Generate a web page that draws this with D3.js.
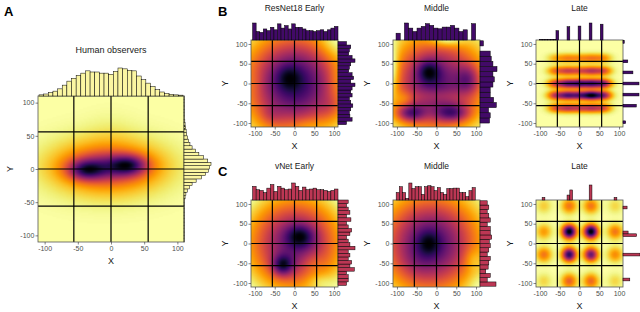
<!DOCTYPE html>
<html>
<head>
<meta charset="utf-8">
<script src="https://cdn.jsdelivr.net/npm/d3@7"></script>
<style>
  body { margin: 0; background: #fff; }
  text { font-family: Arial, "Liberation Sans", sans-serif; }
</style>
</head>
<body>
<svg id="fig" width="640" height="312"></svg>
<script>
// ---- data ----
const axisRange = [-110, 110];
const cutLines = [-56, 0, 56];
const tickValues = [-100, -50, 0, 50, 100];

// density peaks: [x, y, sdX, sdY, weight]
const humanPeaks = [
  [-38, -2, 18, 10, 0.8],
  [27, 6, 18, 10, 0.8],
  [-5, 3, 40, 14, 0.6],
  [-5, 3, 55, 28, 0.8],
  [0, 60, 25, 20, 0.04]
];
const humanTopBins = [-108.5, 7];
const humanTopCounts = [0.04, 0.07, 0.12, 0.17, 0.25, 0.38, 0.52, 0.62, 0.72, 0.8, 0.88, 0.84, 0.84, 0.8, 0.8, 0.76,
  0.86, 0.98, 0.95, 0.9, 0.88, 0.7, 0.57, 0.45, 0.33, 0.22, 0.14, 0.09, 0.06, 0.04, 0.03];
const humanRightBins = [-110, 5];
const humanRightCounts = [0.01, 0.01, 0.01, 0.01, 0.01, 0.01, 0.01, 0.01, 0.01, 0.01, 0.01, 0.01,
  0.02, 0.04, 0.07, 0.12, 0.2, 0.3, 0.45, 0.65, 0.8, 0.9, 0.95, 1.0, 0.88, 0.72, 0.55, 0.42, 0.3, 0.22,
  0.17, 0.13, 0.1, 0.08, 0.06, 0.04, 0.03, 0.02, 0.01, 0.01, 0.01, 0.01, 0.01, 0.01];

const resEarlyPeaks = [
  [0, 0, 90, 90, 1.0],
  [-15, 15, 22, 22, 0.18],
  [100, 100, 30, 30, -0.12],
  [30, -105, 30, 15, -0.1],
  [105, 10, 15, 30, -0.08],
  [-100, 0, 15, 25, -0.05],
  [-60, -80, 20, 18, 0.1],
  [90, -60, 20, 20, 0.1]
];
const resEarlyTopBins = [-106, 9];
const resEarlyTopCounts = [1.0, 0.5, 0.45, 0.65, 0.55, 0.75, 0.6, 0.95, 0.7, 0.85, 0.65, 0.95, 0.75, 0.75, 0.65, 0.55,
  0.55, 0.5, 0.55, 0.6, 0.5, 0.6, 0.7, 0.8];
const resEarlyRightBins = [-104, 8.75];
const resEarlyRightCounts = [0.5, 0.83, 0.7, 0.67, 0.75, 0.87, 0.75, 0.67, 0.83, 0.75, 0.83, 1.0, 0.75, 0.92, 0.83, 0.63,
  0.67, 0.75, 1.0, 0.83, 0.63, 0.67, 0.75, 0.5];

const resMiddlePeaks = [
  [0, 0, 90, 90, 0.8],
  [-20, 30, 20, 20, 0.3],
  [80, 10, 20, 25, 0.25],
  [-65, -75, 25, 15, 0.4],
  [40, -75, 30, 15, 0.35],
  [0, -30, 50, 12, -0.1],
  [25, 115, 30, 15, -0.25],
  [-115, 30, 14, 45, -0.25],
  [-80, -40, 15, 15, -0.1]
];
const resMiddleTopBins = [-102.3, 10.6];
const resMiddleTopCounts = [0.4, 0, 1.0, 0.7, 0.5, 0.7, 0.8, 0.96, 0.86, 0.7, 0.66, 0.76, 0.76, 0.86, 0.7, 0.5, 0.6, 0, 0.96];
const resMiddleRightBins = [-100, 13];
const resMiddleRightCounts = [0.56, 0.6, 0.5, 0.96, 0.8, 0.6, 0.6, 0.76, 0.84, 0.76, 1.0, 0.76, 0.66, 0.6, 0, 0.2];

const resLatePeaks = [
  [-60, 64, 15, 8, 0.2], [-30, 64, 15, 8, 0.28], [0, 64, 15, 8, 0.25], [30, 64, 15, 8, 0.3], [60, 64, 15, 8, 0.28],
  [-60, 32, 15, 8, 0.35], [-30, 32, 15, 8, 0.45], [0, 32, 15, 8, 0.4], [30, 32, 15, 8, 0.5], [60, 32, 15, 8, 0.45],
  [-60, 0, 15, 8, 0.5], [-30, 0, 15, 8, 0.75], [0, 0, 15, 8, 0.8], [30, 0, 15, 8, 0.8], [60, 0, 15, 8, 0.75],
  [-60, -30, 15, 8, 0.55], [-30, -30, 15, 8, 0.75], [0, -30, 15, 8, 0.7], [30, -30, 15, 8, 1.0], [60, -30, 15, 8, 0.7],
  [-60, -62, 15, 8, 0.4], [-30, -62, 15, 8, 0.5], [0, -62, 15, 8, 0.45], [30, -62, 15, 8, 0.5], [60, -62, 15, 8, 0.45]
];
const resLateTopBins = [-108.5, 7];
const resLateTopCounts = [0, 0.03, 0.03, 0.03, 0.03, 0.03, 0.03, 0.55, 0, 0, 0, 0.78, 0, 0, 0, 0.82,
  0, 0, 0, 1.0, 0, 0, 0, 0.93, 0, 0, 0, 0, 0, 0, 0];
const resLateRightBins = [-108.5, 7];
const resLateRightCounts = [0, 0.17, 0, 0, 0, 0, 0, 0.83, 0, 0, 0, 1.0, 0, 0, 0, 1.0,
  0, 0, 0, 0.62, 0, 0, 0, 0.3, 0, 0, 0, 0, 0, 0, 0.08];

const vnetEarlyPeaks = [
  [0, 0, 90, 90, 0.8],
  [15, 18, 25, 20, 0.3],
  [-30, -55, 18, 18, 0.4],
  [45, -50, 20, 20, -0.1],
  [60, -95, 25, 15, -0.1]
];
const vnetEarlyTopBins = [-106, 9];
const vnetEarlyTopCounts = [0.77, 0.58, 0.54, 0.42, 0.67, 0.87, 0.48, 0.77, 0.67, 0.58, 0.62, 0.96, 0.77, 0.54, 0.73, 0.58,
  0.62, 0.67, 0.58, 0.58, 0.54, 0.48, 0.54, 0.62];
const vnetEarlyRightBins = [-106, 9];
const vnetEarlyRightCounts = [0.5, 0.6, 0.6, 0.5, 0.96, 0.7, 0.8, 0.6, 0.7, 0.6, 1.0, 0.7, 0.6, 0.5, 0.7, 0.8,
  0.6, 0.5, 0.76, 0.5, 0.7, 0.6, 0.5, 0.6];

const vnetMiddlePeaks = [
  [-15, 0, 90, 90, 0.85],
  [-20, 0, 20, 22, 0.2],
  [-50, -50, 30, 30, 0.05],
  [90, -40, 15, 20, -0.1],
  [100, -100, 20, 20, -0.05]
];
const vnetMiddleTopBins = [-102, 8];
const vnetMiddleTopCounts = [0.44, 0.78, 0.44, 0.1, 1.0, 0.67, 0.78, 0.78, 0.33, 0.78, 0.84, 0.78, 0.55, 0.73, 0.44, 0.33,
  0.67, 0.67, 0.7, 0.7, 0.44, 0.44, 0.2, 0.55, 0.73, 0];
const vnetMiddleRightBins = [-108, 10.8];
const vnetMiddleRightCounts = [1.0, 0.45, 0.64, 0.36, 0.51, 0.55, 0.64, 0.45, 0.55, 0.64, 0.58, 0.73, 0.64, 0.64, 0.45, 0.64,
  0.55, 0.45, 0.55, 0.45];

const vnetLatePeaks = [
  [-26, 30, 12, 12, 1.0], [29, 30, 12, 12, 1.0], [-26, -28, 12, 12, 0.85], [29, -28, 12, 12, 0.7],
  [-26, 95, 13, 13, 0.3], [29, 95, 13, 13, 0.3], [-26, -95, 13, 13, 0.35], [29, -95, 13, 13, 0.33],
  [-90, 30, 13, 13, 0.22], [-90, -28, 13, 13, 0.3], [90, 30, 13, 13, 0.3], [90, -28, 13, 13, 0.25],
  [-90, 95, 13, 13, 0.12], [90, 95, 13, 13, 0.1], [-90, -95, 13, 13, 0.1], [90, -95, 13, 13, 0.1]
];
const vnetLateTopBins = [-108.5, 7];
const vnetLateTopCounts = [0, 0, 0.17, 0, 0, 0, 0, 0, 0, 0, 0, 0.33, 0.67, 0, 0, 0,
  0, 0, 0, 1.0, 0, 0, 0, 0, 0, 0, 0, 0, 0.17, 0, 0];
const vnetLateRightBins = [-108.5, 7];
const vnetLateRightCounts = [0, 0, 0.4, 0, 0, 0, 0, 0, 0, 0, 0, 1.0, 0, 0, 0, 0,
  0, 0, 0.8, 0.3, 0, 0, 0, 0, 0, 0, 0, 0, 0.24, 0, 0];

const humanFill = "#fbf6a2";
const resFill = "#420a68";
const vnetFill = "#bc3754";

// ---- layout ----
const panels = [
  { title: "Human observers", left: 38, top: 96, size: 146, titleY: 53, topMax: 28, rightMax: 27, fill: humanFill,
    peaks: humanPeaks, topBins: humanTopBins, topCounts: humanTopCounts, rightBins: humanRightBins, rightCounts: humanRightCounts },
  { title: "ResNet18 Early", left: 251, top: 40, size: 87, titleY: 11, topMax: 17, rightMax: 17, fill: resFill,
    peaks: resEarlyPeaks, topBins: resEarlyTopBins, topCounts: resEarlyTopCounts, rightBins: resEarlyRightBins, rightCounts: resEarlyRightCounts },
  { title: "Middle", left: 393, top: 40, size: 87, titleY: 11, topMax: 17, rightMax: 17, fill: resFill,
    peaks: resMiddlePeaks, topBins: resMiddleTopBins, topCounts: resMiddleTopCounts, rightBins: resMiddleRightBins, rightCounts: resMiddleRightCounts },
  { title: "Late", left: 536, top: 40, size: 87, titleY: 11, topMax: 17, rightMax: 16, fill: resFill,
    peaks: resLatePeaks, topBins: resLateTopBins, topCounts: resLateTopCounts, rightBins: resLateRightBins, rightCounts: resLateRightCounts },
  { title: "vNet Early", left: 251, top: 200, size: 87, titleY: 169, topMax: 17, rightMax: 17, fill: vnetFill,
    peaks: vnetEarlyPeaks, topBins: vnetEarlyTopBins, topCounts: vnetEarlyTopCounts, rightBins: vnetEarlyRightBins, rightCounts: vnetEarlyRightCounts },
  { title: "Middle", left: 393, top: 200, size: 87, titleY: 169, topMax: 17, rightMax: 16, fill: vnetFill,
    peaks: vnetMiddlePeaks, topBins: vnetMiddleTopBins, topCounts: vnetMiddleTopCounts, rightBins: vnetMiddleRightBins, rightCounts: vnetMiddleRightCounts },
  { title: "Late", left: 536, top: 200, size: 87, titleY: 169, topMax: 15, rightMax: 17, fill: vnetFill,
    peaks: vnetLatePeaks, topBins: vnetLateTopBins, topCounts: vnetLateTopCounts, rightBins: vnetLateRightBins, rightCounts: vnetLateRightCounts }
];

const svg = d3.select("#fig");
const gridN = 110;

function densityGrid(peaks) {
  const step = (axisRange[1] - axisRange[0]) / gridN;
  const vals = [];
  for (let r = 0; r < gridN; r++) {
    const y = axisRange[1] - (r + 0.5) * step;
    for (let c = 0; c < gridN; c++) {
      const x = axisRange[0] + (c + 0.5) * step;
      let v = 0;
      for (const [px, py, sx, sy, w] of peaks) {
        v += w * Math.exp(-((x - px) ** 2 / (2 * sx * sx) + (y - py) ** 2 / (2 * sy * sy)));
      }
      vals.push(v);
    }
  }
  return vals;
}

function drawPanel(p) {
  const g = svg.append("g");
  const x = d3.scaleLinear().domain(axisRange).range([p.left, p.left + p.size]);
  const y = d3.scaleLinear().domain(axisRange).range([p.top + p.size, p.top]);

  // heat map
  const vals = densityGrid(p.peaks);
  const color = d3.scaleSequential(d3.interpolateInferno).domain([d3.max(vals), d3.min(vals)]);
  const canvas = document.createElement("canvas");
  canvas.width = gridN; canvas.height = gridN;
  const ctx = canvas.getContext("2d");
  const img = ctx.createImageData(gridN, gridN);
  vals.forEach((v, i) => {
    const c = d3.rgb(color(v));
    img.data[4 * i] = c.r; img.data[4 * i + 1] = c.g; img.data[4 * i + 2] = c.b; img.data[4 * i + 3] = 255;
  });
  ctx.putImageData(img, 0, 0);
  g.append("image")
    .attr("href", canvas.toDataURL())
    .attr("x", p.left).attr("y", p.top)
    .attr("width", p.size).attr("height", p.size)
    .attr("preserveAspectRatio", "none");

  // cut lines
  g.selectAll(".vcut").data(cutLines).enter().append("line")
    .attr("x1", d => x(d)).attr("x2", d => x(d))
    .attr("y1", p.top).attr("y2", p.top + p.size)
    .attr("stroke", "#000").attr("stroke-width", 1.2);
  g.selectAll(".hcut").data(cutLines).enter().append("line")
    .attr("y1", d => y(d)).attr("y2", d => y(d))
    .attr("x1", p.left).attr("x2", p.left + p.size)
    .attr("stroke", "#000").attr("stroke-width", 1.2);

  g.append("rect")
    .attr("x", p.left).attr("y", p.top).attr("width", p.size).attr("height", p.size)
    .attr("fill", "none").attr("stroke", "#555").attr("stroke-width", 0.8);

  // axes
  const ax = g.append("g").attr("transform", `translate(0,${p.top + p.size})`)
    .call(d3.axisBottom(x).tickValues(tickValues).tickFormat(d => String(d)).tickSize(2.5).tickPadding(1.5));
  const ay = g.append("g").attr("transform", `translate(${p.left},0)`)
    .call(d3.axisLeft(y).tickValues(tickValues).tickFormat(d => String(d)).tickSize(2.5).tickPadding(1.2));
  [ax, ay].forEach(a => {
    a.select(".domain").remove();
    a.selectAll("line").attr("stroke", "#333").attr("stroke-width", 0.6);
    a.selectAll("text").attr("fill", "#4d4d4d").style("font-size", "7px").style("font-family", "Arial, 'Liberation Sans', sans-serif");
  });

  g.append("text")
    .attr("x", p.left + p.size / 2).attr("y", p.top + p.size + 22)
    .attr("text-anchor", "middle").attr("font-size", 9).attr("fill", "#1a1a1a")
    .text("X");
  g.append("text")
    .attr("transform", `translate(${p.left - (p.size > 100 ? 28 : 26)},${p.top + p.size / 2}) rotate(-90)`)
    .attr("text-anchor", "middle").attr("dy", "0.35em").attr("font-size", 9).attr("fill", "#1a1a1a")
    .text("Y");

  g.append("text")
    .attr("x", p.left + p.size / 2).attr("y", p.titleY)
    .attr("text-anchor", "middle").attr("font-size", p.size > 100 ? 9 : 8.5).attr("fill", "#1a1a1a")
    .text(p.title);

  // marginal histograms
  const topH = d3.scaleLinear().domain([0, d3.max(p.topCounts)]).range([0, p.topMax]);
  const [ts, tw] = p.topBins;
  g.append("g").selectAll("rect").data(p.topCounts).enter().append("rect")
    .attr("x", (d, i) => x(ts + i * tw))
    .attr("width", (d, i) => x(ts + (i + 1) * tw) - x(ts + i * tw))
    .attr("y", d => p.top - topH(d))
    .attr("height", d => topH(d))
    .attr("fill", p.fill).attr("stroke", "#000").attr("stroke-width", 0.5);

  const rightW = d3.scaleLinear().domain([0, d3.max(p.rightCounts)]).range([0, p.rightMax]);
  const [rs, rw] = p.rightBins;
  g.append("g").selectAll("rect").data(p.rightCounts).enter().append("rect")
    .attr("x", p.left + p.size)
    .attr("y", (d, i) => y(rs + (i + 1) * rw))
    .attr("height", (d, i) => y(rs + i * rw) - y(rs + (i + 1) * rw))
    .attr("width", d => rightW(d))
    .attr("fill", p.fill).attr("stroke", "#000").attr("stroke-width", 0.5);
}

panels.forEach(drawPanel);

// panel letters
const letters = [["A", 4, 16], ["B", 218, 16], ["C", 218, 176]];
svg.selectAll(".letter").data(letters).enter().append("text")
  .attr("x", d => d[1]).attr("y", d => d[2])
  .attr("font-size", 13).attr("font-weight", "bold").attr("fill", "#000")
  .text(d => d[0]);
</script>
</body>
</html>
